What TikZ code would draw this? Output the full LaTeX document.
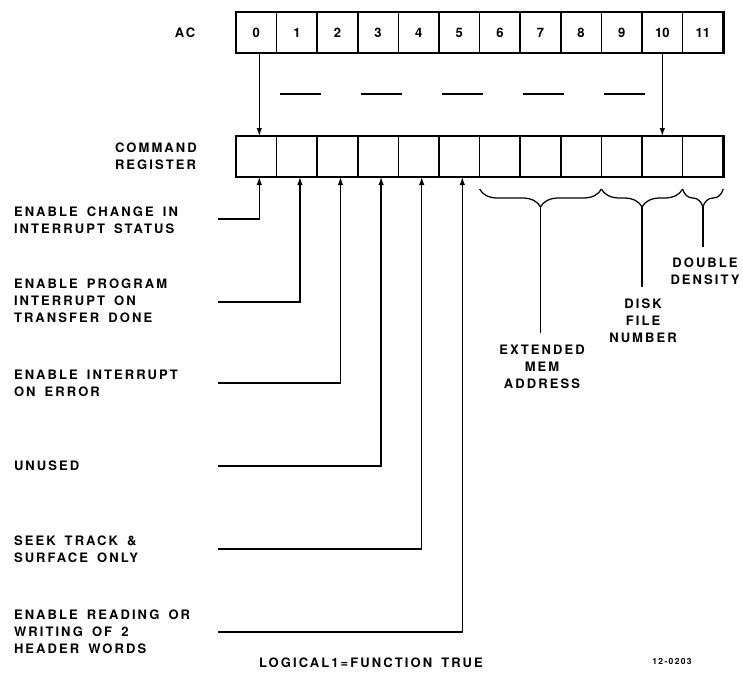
\documentclass[tikz,border=0pt]{standalone}
\usepackage{fontspec}
\setmainfont{TeX Gyre Heros}
\newfontfamily\lblfont[LetterSpace=16,WordSpace=1.6,UprightFont=*-Bold]{TeX Gyre Heros}
\newfontfamily\digfont[UprightFont=*-Bold]{TeX Gyre Heros}
\usetikzlibrary{arrows.meta,decorations.pathreplacing,calc}
\tikzset{
  txt/.style={font=\lblfont\fontsize{13}{17}\selectfont, inner sep=0pt, outer sep=0pt},
  lab/.style={txt, align=left, anchor=west},
  rlab/.style={txt, align=center, anchor=north},
  cell/.style={draw, line width=1.6pt, minimum width=40.6pt, minimum height=41pt,
               inner sep=0pt, outer sep=0pt, font=\digfont\fontsize{13}{14}\selectfont},
  frame/.style={line width=2.8pt},
  conn/.style={line width=1.25pt},
  arr/.style={conn, -{Latex[length=8pt,width=5.5pt]}},
  brc/.style={conn, decorate, decoration={brace, mirror, amplitude=18pt}}
}
\begin{document}
\begin{tikzpicture}[x=1pt,y=-1pt]
\useasboundingbox (0,0) rectangle (743,675);
% registers
\foreach \i in {0,...,11} \node[cell] (a\i) at ({256.3+40.6*\i},32.5) {\i};
\foreach \i in {0,...,11} \node[cell] (c\i) at ({256.3+40.6*\i},156.5) {};
\draw[frame] (a0.north west) rectangle (a11.south east);
\draw[frame] (c0.north west) rectangle (c11.south east);
\node[txt] (ac) at (185,33) {AC};
\node[lab] (cr) at (115,156.5) {COMMAND\\REGISTER};
% transfer arrows and dashes
\draw[arr] ([xshift=3pt]a0.south) -- ([xshift=3pt]c0.north);
\draw[arr] (a10.south) -- (c10.north);
\foreach \x in {280,361,442,523,604} \draw[conn] (\x,94) -- ++(41,0);
% left labels
\node[lab] (l0) at (14,220) {ENABLE CHANGE IN\\INTERRUPT STATUS};
\node[lab] (l1) at (14,301) {ENABLE PROGRAM\\INTERRUPT ON\\TRANSFER DONE};
\node[lab] (l2) at (14,383) {ENABLE INTERRUPT\\ON ERROR};
\node[lab] (l3) at (14,466) {UNUSED};
\node[lab] (l4) at (14,549) {SEEK TRACK \&\\SURFACE ONLY};
\node[lab] (l5) at (14,632) {ENABLE READING OR\\WRITING OF 2\\HEADER WORDS};
\coordinate (s0) at (218,219);
\coordinate (s1) at (218,302);
\coordinate (s2) at (218,383);
\coordinate (s3) at (218,466);
\coordinate (s4) at (218,549);
\coordinate (s5) at (218,632);
\foreach \i in {0,...,5} \draw[arr] (s\i) -| ([xshift=3pt]c\i.south);
% braces
\draw[brc] ([yshift=-12pt]c6.south west) -- ([yshift=-12pt]c8.south east);
\draw[brc] ([yshift=-12pt]c9.south west) -- ([yshift=-12pt]c10.south east);
\draw[brc] ([yshift=-12pt]c11.south west) -- ([yshift=-12pt]c11.south east);
\coordinate (t0) at ($(c6.south west)!0.5!(c8.south east)+(0,30)$);
\coordinate (t1) at ($(c9.south west)!0.5!(c10.south east)+(0,30)$);
\coordinate (t2) at ($(c11.south west)!0.5!(c11.south east)+(0,30)$);
\node[rlab] (r0) at (542,345.5) {EXTENDED\\MEM\\ADDRESS};
\node[rlab] (r1) at (643,298.5) {DISK\\FILE\\NUMBER};
\node[rlab] (r2) at (705,257.5) {DOUBLE\\DENSITY};
\draw[conn] (t0) -- (t0 |- 0,333);
\draw[conn] (t1) -- (t1 |- 0,287);
\draw[conn] (t2) -- (t2 |- 0,247);
% footer
\node[txt] (ft) at (371,663) {LOGICAL1=FUNCTION TRUE};
\node[txt, font=\lblfont\fontsize{8.5}{10}\selectfont] (id) at (672,661) {12-0203};
\end{tikzpicture}
\end{document}
